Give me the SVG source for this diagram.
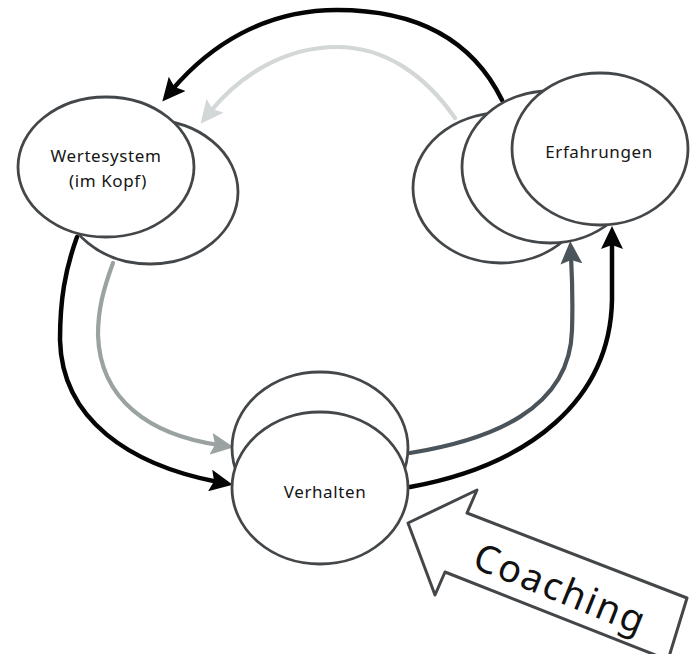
<svg xmlns="http://www.w3.org/2000/svg" width="691" height="654" viewBox="0 0 691 654">
  <defs>
    <style>
      .bubble { fill: #ffffff; stroke: #444749; stroke-width: 2.8; }
      .label { font-family: "Noto Sans", "DejaVu Sans", sans-serif; font-size: 17px; fill: #151515; text-anchor: middle; letter-spacing: 0.6px; }
      .flow { fill: none; stroke-linecap: round; }
      .k { stroke: #050505; stroke-width: 4.5; }
      .lg { stroke: #d3d7d7; stroke-width: 4.2; }
      .mg { stroke: #9ba3a2; stroke-width: 4.2; }
      .dg { stroke: #4b545a; stroke-width: 4.2; }
    </style>
    <marker id="head-k" markerUnits="userSpaceOnUse" markerWidth="24" markerHeight="22" refX="8" refY="11" orient="auto">
      <path d="M0,0 L23,11 L0,22 L4,11 z" fill="#050505"/>
    </marker>
    <marker id="head-lg" markerUnits="userSpaceOnUse" markerWidth="24" markerHeight="22" refX="8" refY="11" orient="auto">
      <path d="M0,0 L23,11 L0,22 L4,11 z" fill="#d3d7d7"/>
    </marker>
    <marker id="head-mg" markerUnits="userSpaceOnUse" markerWidth="24" markerHeight="22" refX="8" refY="11" orient="auto">
      <path d="M0,0 L23,11 L0,22 L4,11 z" fill="#9ba3a2"/>
    </marker>
    <marker id="head-dg" markerUnits="userSpaceOnUse" markerWidth="24" markerHeight="22" refX="8" refY="11" orient="auto">
      <path d="M0,0 L23,11 L0,22 L4,11 z" fill="#4b545a"/>
    </marker>
  </defs>

  <rect width="691" height="654" fill="#ffffff"/>

  <!-- connectors -->
  <g id="connectors">
    <path class="flow k" d="M502,100 C470,35 410,10 337,10 C265,10 210,45 172,90" marker-end="url(#head-k)"/>
    <path class="flow lg" d="M455,118 C425,75 385,47 337,47 C285,47 240,75 210,112" marker-end="url(#head-lg)"/>
    <path class="flow k" d="M77,237 C65,270 60,300 60,340 C62,420 130,465 218,482" marker-end="url(#head-k)"/>
    <path class="flow mg" d="M113,263 C103,290 98,310 98,335 C100,400 150,435 219,445" marker-end="url(#head-mg)"/>
    <path class="flow dg" d="M410,453 C490,440 570,410 572,330 C573,300 572,275 571,256" marker-end="url(#head-dg)"/>
    <path class="flow k" d="M410,487 C530,465 610,400 612,300 L612,241" marker-end="url(#head-k)"/>
  </g>

  <!-- node: Wertesystem -->
  <g id="node-wertesystem">
    <ellipse class="bubble" cx="150" cy="192" rx="88" ry="72"/>
    <ellipse class="bubble" cx="106" cy="167" rx="88" ry="70"/>
    <text class="label" x="106" y="162">Wertesystem</text>
    <text class="label" x="108" y="187">(im Kopf)</text>
  </g>

  <!-- node: Erfahrungen -->
  <g id="node-erfahrungen">
    <ellipse class="bubble" cx="501" cy="188" rx="88" ry="75"/>
    <ellipse class="bubble" cx="550" cy="167" rx="88" ry="76"/>
    <ellipse class="bubble" cx="600" cy="149" rx="88" ry="76"/>
    <text class="label" x="599" y="158">Erfahrungen</text>
  </g>

  <!-- node: Verhalten -->
  <g id="node-verhalten">
    <ellipse class="bubble" cx="320" cy="448" rx="88" ry="76"/>
    <ellipse class="bubble" cx="320" cy="488" rx="88" ry="76"/>
    <text class="label" x="325" y="498">Verhalten</text>
  </g>

  <!-- node: Coaching block arrow -->
  <g id="node-coaching">
    <polygon points="408,523 477,490 467,513 687,598 668,660 445,572 435,595" fill="#ffffff" stroke="#444749" stroke-width="3" stroke-linejoin="round"/>
    <text x="560" y="602" transform="rotate(22 560 590)" font-family="Noto Sans, DejaVu Sans, sans-serif" font-size="38" fill="#111111" text-anchor="middle" letter-spacing="2">Coaching</text>
  </g>
</svg>
